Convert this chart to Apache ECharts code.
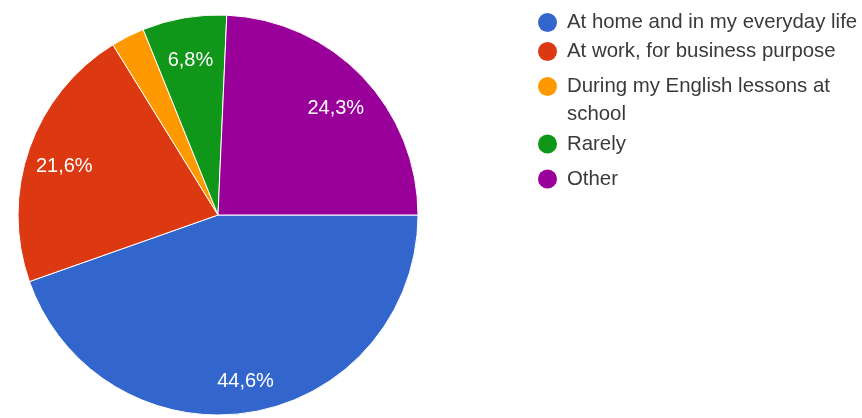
<!DOCTYPE html>
<html>
<head>
<meta charset="utf-8">
<title>Where do you use English?</title>
<script src="https://cdn.jsdelivr.net/npm/echarts@6/dist/echarts.min.js"></script>
<style>
  html, body { margin: 0; padding: 0; background: #ffffff; }
  #chart { width: 862px; height: 418px; }
</style>
</head>
<body>
<div id="chart"></div>
<script>
// Survey answers and their shares (percent)
const categories = [
  'At home and in my everyday life',
  'At work, for business purpose',
  'During my English lessons at school',
  'Rarely',
  'Other'
];
const shares = [44.6, 21.6, 2.7, 6.8, 24.3];
const colors = ['#3366cc', '#dc3912', '#ff9900', '#109618', '#990099'];

// Legend wording: the long answer wraps, its first line stays level with the dot
const legendText = {
  'During my English lessons at school': '\nDuring my English lessons at\nschool'
};

const pieData = categories.map((name, i) => ({ name, value: shares[i] }));

const fontFamily = '"Liberation Sans", Arial, sans-serif';
const legendFont = { fontFamily, fontSize: 20.4, color: '#3a3a3a', lineHeight: 28 };
const center = [218, 215];

function pctLabel(p) {
  // slices too thin to hold text stay unlabeled
  if (p.value < 5) return '';
  return p.value.toFixed(1).replace('.', ',') + '%';
}

const legendBase = {
  orient: 'vertical',
  left: 538,
  padding: 0,
  icon: 'circle',
  itemWidth: 29,
  itemHeight: 19,
  itemStyle: { borderWidth: 0 },
  selectedMode: false,
  formatter: name => legendText[name] || name,
  textStyle: legendFont
};

const chart = echarts.init(document.getElementById('chart'), null, { renderer: 'canvas' });
chart.setOption({
  backgroundColor: '#ffffff',
  animation: false,
  color: colors,
  textStyle: { fontFamily },
  legend: [
    Object.assign({}, legendBase, {
      top: 8.5,
      itemGap: 1,
      data: [categories[0], categories[1]]
    }),
    Object.assign({}, legendBase, {
      top: 44.5,
      data: [categories[2]]
    }),
    Object.assign({}, legendBase, {
      top: 130,
      itemGap: 7,
      data: [categories[3], categories[4]]
    })
  ],
  series: [
    {
      // the slices
      type: 'pie',
      center,
      radius: [0, 200],
      startAngle: 0,
      clockwise: true,
      avoidLabelOverlap: false,
      label: { show: false },
      labelLine: { show: false },
      itemStyle: { borderColor: '#ffffff', borderWidth: 1 },
      emphasis: { disabled: true },
      data: pieData
    },
    {
      // transparent ring that carries the percentage texts
      type: 'pie',
      center,
      radius: [120, 200],
      startAngle: 0,
      clockwise: true,
      silent: true,
      avoidLabelOverlap: false,
      legendHoverLink: false,
      itemStyle: { color: 'transparent', borderWidth: 0 },
      label: {
        show: true,
        position: 'inside',
        color: '#ffffff',
        fontFamily,
        fontSize: 20,
        formatter: pctLabel
      },
      labelLayout: () => ({ dy: 6 }),
      labelLine: { show: false },
      emphasis: { disabled: true },
      data: pieData
    }
  ]
});
</script>
</body>
</html>
